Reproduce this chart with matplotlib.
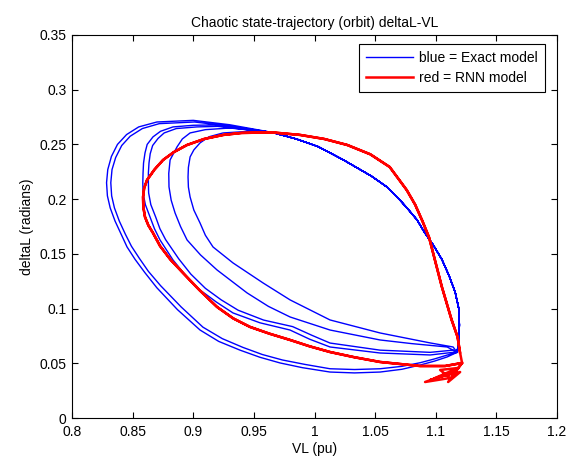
import numpy as np
import matplotlib
matplotlib.use("Agg")
import matplotlib.pyplot as plt
from matplotlib.ticker import FormatStrFormatter

plt.rcParams['font.family'] = ['Liberation Sans', 'DejaVu Sans']

# shared upper-right arc of the exact model orbit (VL, deltaL)
blue_arc = [(1.1176, 0.060), (1.119, 0.070), (1.1195, 0.085), (1.119, 0.100),
            (1.116, 0.115), (1.111, 0.130), (1.105, 0.145), (1.098, 0.158),
            (1.0905, 0.170), (1.0846, 0.181), (1.077, 0.191), (1.0706, 0.199),
            (1.0599, 0.211), (1.047, 0.221), (1.0236, 0.236), (1.003, 0.248),
            (0.985, 0.255), (0.965, 0.261)]

# individual revolutions (leave the arc, go round the left side, come back)
blue_loop1 = [(0.93, 0.268), (0.90, 0.272), (0.87, 0.2705), (0.855, 0.266),
              (0.845, 0.259), (0.8375, 0.250), (0.8325, 0.239), (0.8295, 0.227),
              (0.8285, 0.215), (0.8292, 0.203), (0.8315, 0.192), (0.8355, 0.180),
              (0.8405, 0.168), (0.8454, 0.1563), (0.852, 0.145), (0.860, 0.133),
              (0.870, 0.119), (0.887, 0.099), (0.9056, 0.0804), (0.921, 0.070),
              (0.9386, 0.062), (0.955, 0.0555), (0.9716, 0.0503), (0.990, 0.046),
              (1.0128, 0.042), (1.033, 0.0412), (1.0541, 0.042), (1.072, 0.0445),
              (1.0871, 0.0484), (1.099, 0.052), (1.1094, 0.0558)]
blue_loop1b = [(0.932, 0.2665), (0.901, 0.2705), (0.872, 0.269), (0.858, 0.2645),
               (0.848, 0.2575), (0.841, 0.249), (0.836, 0.238), (0.833, 0.227),
               (0.832, 0.215), (0.8327, 0.203), (0.835, 0.192), (0.839, 0.180),
               (0.844, 0.168), (0.849, 0.157), (0.8555, 0.146), (0.863, 0.134),
               (0.873, 0.121), (0.890, 0.1015), (0.908, 0.083), (0.924, 0.0725),
               (0.941, 0.0645), (0.957, 0.058), (0.9736, 0.053), (0.992, 0.049),
               (1.0128, 0.045), (1.033, 0.0443), (1.0541, 0.045), (1.072, 0.0472),
               (1.0871, 0.0505), (1.099, 0.054), (1.1094, 0.0575)]
blue_loop2 = [(0.918, 0.2678), (0.900, 0.2675), (0.8833, 0.266), (0.873, 0.262),
              (0.8668, 0.2569), (0.862, 0.250), (0.8602, 0.2422), (0.859, 0.233),
              (0.8586, 0.224), (0.8584, 0.215), (0.8586, 0.2057), (0.8605, 0.195),
              (0.8644, 0.1837), (0.868, 0.173), (0.8726, 0.1627), (0.8833, 0.1444),
              (0.894, 0.130), (0.9056, 0.117), (0.919, 0.106), (0.9328, 0.096),
              (0.955, 0.087), (0.9798, 0.0804), (0.996, 0.072), (1.0128, 0.0649),
              (1.0541, 0.0594), (1.0954, 0.0576), (1.1143, 0.060)]
blue_loop2b = [(0.920, 0.2665), (0.903, 0.266), (0.886, 0.2645), (0.876, 0.2605),
               (0.871, 0.2555), (0.8665, 0.249), (0.8645, 0.2415), (0.8635, 0.233),
               (0.863, 0.224), (0.863, 0.215), (0.8632, 0.2057), (0.865, 0.195),
               (0.869, 0.1837), (0.8725, 0.173), (0.8772, 0.163), (0.888, 0.1455),
               (0.898, 0.1315), (0.910, 0.1185), (0.923, 0.108), (0.937, 0.0985),
               (0.958, 0.0895), (0.982, 0.0835), (0.998, 0.0755), (1.0128, 0.0685),
               (1.0541, 0.062), (1.0954, 0.060), (1.1143, 0.062)]
blue_loop3 = [(0.9303, 0.265), (0.910, 0.2635), (0.8974, 0.2605), (0.891, 0.255),
              (0.8866, 0.2477), (0.8809, 0.2358), (0.8798, 0.2235), (0.880, 0.2112),
              (0.8818, 0.199), (0.885, 0.1874), (0.8895, 0.175), (0.8949, 0.1627),
              (0.906, 0.149), (0.9196, 0.1353), (0.9444, 0.1143), (0.962, 0.102),
              (0.9799, 0.0923), (1.0128, 0.0804), (1.0541, 0.0713), (1.080, 0.068),
              (1.1094, 0.0649)]
blue_loop4 = [(0.951, 0.2623), (0.9246, 0.2605), (0.913, 0.257), (0.9056, 0.2514),
              (0.9005, 0.245), (0.8974, 0.2386), (0.896, 0.229), (0.8957, 0.2203),
              (0.896, 0.211), (0.8974, 0.202), (0.9005, 0.190), (0.9056, 0.1782),
              (0.910, 0.167), (0.9163, 0.1563), (0.9328, 0.1417), (0.9576, 0.1234),
              (0.9799, 0.1079), (1.0128, 0.0896), (1.0541, 0.0777), (1.0954, 0.0686),
              (1.1143, 0.0649)]

# RNN model orbit
red_orbit = [(1.120, 0.060), (1.118, 0.074), (1.113, 0.090), (1.109, 0.105),
             (1.105, 0.120), (1.1015, 0.135), (1.098, 0.150), (1.0945, 0.165),
             (1.089, 0.180), (1.083, 0.195), (1.076, 0.2084), (1.062, 0.2294),
             (1.046, 0.241), (1.027, 0.2495), (1.008, 0.255), (0.988, 0.2587),
             (0.965, 0.261), (0.940, 0.2605), (0.9249, 0.2587), (0.909, 0.255),
             (0.8949, 0.2495), (0.884, 0.243), (0.8751, 0.2358), (0.868, 0.227),
             (0.8619, 0.2175), (0.8595, 0.210), (0.8586, 0.202), (0.8588, 0.193),
             (0.8602, 0.1837), (0.863, 0.176), (0.8668, 0.1691), (0.8726, 0.1572),
             (0.881, 0.145), (0.8916, 0.1325), (0.905, 0.117), (0.9196, 0.1015),
             (0.933, 0.091), (0.9469, 0.0832), (0.963, 0.077), (0.9799, 0.0713),
             (0.996, 0.0655), (1.0128, 0.0603), (1.033, 0.0555), (1.0541, 0.0512),
             (1.0871, 0.0475), (1.1077, 0.0475), (1.1217, 0.0503)]
red_tangle = [(1.116, 0.042), (1.0954, 0.0347), (1.1077, 0.0393), (1.0912, 0.0329),
              (1.1118, 0.0366), (1.1036, 0.0439), (1.1184, 0.0457), (1.0995, 0.0366),
              (1.1201, 0.042), (1.1102, 0.0329), (1.1217, 0.0503)]

blue_path = []
for loop in [blue_loop1, blue_loop1b, blue_loop2, blue_loop2b, blue_loop3, blue_loop4]:
    blue_path += blue_arc + loop
blue_path += blue_arc
blue_path = np.array(blue_path)

red_path = np.array(red_orbit + red_tangle + red_orbit)

fig = plt.figure(figsize=(5.74, 4.57), dpi=100)
ax = fig.add_axes([72 / 574, 1 - 418 / 457, 485 / 574, 383 / 457])

ax.plot(blue_path[:, 0], blue_path[:, 1], color='#0000ff', lw=1.0, label='blue = Exact model')
ax.plot(red_path[:, 0], red_path[:, 1], color='#ff0000', lw=1.8, label='red = RNN model')

ax.set_xlim(0.8, 1.2)
ax.set_ylim(0, 0.35)
ax.set_xticks(np.arange(0.8, 1.2001, 0.05))
ax.set_yticks(np.arange(0, 0.3501, 0.05))
ax.xaxis.set_major_formatter(FormatStrFormatter('%g'))
ax.yaxis.set_major_formatter(FormatStrFormatter('%g'))
ax.tick_params(direction='in', top=True, right=True, labelsize=10, length=4, width=0.8)
ax.tick_params(axis='x', pad=5)
ax.tick_params(axis='y', pad=4)
for s in ax.spines.values():
    s.set_linewidth(0.8)

ax.set_xlabel('VL (pu)', fontsize=10, labelpad=2)
ax.set_ylabel('deltaL (radians)', fontsize=10)
ax.set_title('Chaotic state-trajectory (orbit) deltaL-VL', fontsize=10)

leg = ax.legend(loc='upper right', bbox_to_anchor=(0.975, 0.9765), borderaxespad=0,
                fontsize=10, fancybox=False, edgecolor='black', framealpha=1,
                handlelength=3.4, handletextpad=0.45, labelspacing=0.45,
                borderpad=0.5)
leg.get_frame().set_linewidth(0.8)

fig.savefig('out.png', dpi=100)
